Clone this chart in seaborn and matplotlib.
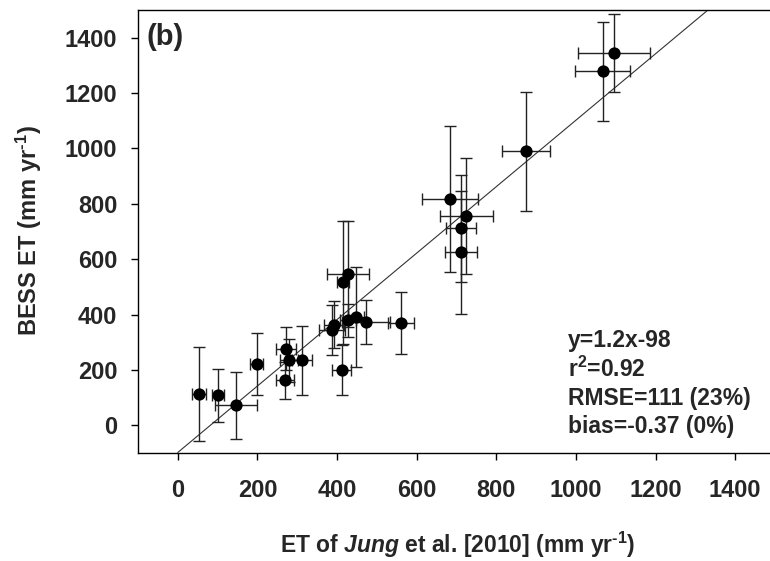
import numpy as np
import matplotlib
matplotlib.use("Agg")
import matplotlib.pyplot as plt
import seaborn as sns
import pandas as pd

# Data
jung_et = [54, 101, 146, 198, 272, 279, 269, 312, 387, 393, 427, 448, 473, 560,
           412, 414, 427, 684, 725, 712, 712, 874, 1067, 1095]
bess_et = [112, 108, 72, 220, 276, 235, 162, 235, 345, 363, 379, 391, 372, 370,
           199, 516, 546, 817, 755, 711, 625, 990, 1278, 1345]
jung_err = [18, 14, 52, 17, 25, 23, 22, 26, 32, 25, 20, 20, 60, 33,
            24, 15, 52, 70, 67, 38, 40, 60, 70, 90]
bess_err = [170, 97, 120, 112, 78, 78, 68, 124, 90, 85, 60, 180, 80, 112,
            90, 222, 192, 263, 210, 192, 223, 215, 178, 140]

fit_slope = 1.2
fit_intercept = -98
stats_lines = ["y=1.2x-98", r"r$^{2}$=0.92", "RMSE=111 (23%)", "bias=-0.37 (0%)"]
ticks = [0, 200, 400, 600, 800, 1000, 1200, 1400]
axis_min, axis_max = -100, 1500

df = pd.DataFrame({"jung": jung_et, "bess": bess_et,
                   "jung_err": jung_err, "bess_err": bess_err})

sns.set_style("ticks")
plt.rcParams["font.family"] = ["Liberation Sans", "DejaVu Sans"]
plt.rcParams["font.weight"] = "bold"
plt.rcParams["mathtext.fontset"] = "custom"
plt.rcParams["mathtext.rm"] = "Liberation Sans:bold"
plt.rcParams["mathtext.it"] = "Liberation Sans:bold:italic"
plt.rcParams["mathtext.bf"] = "Liberation Sans:bold"

fig = plt.figure(figsize=(7.7, 5.61), dpi=100)
W, H = 770, 561
ax = fig.add_axes([138 / W, (H - 453) / H, (775 - 138) / W, (453 - 10) / H])

# error bars
ax.errorbar(df["jung"], df["bess"], xerr=df["jung_err"], yerr=df["bess_err"],
            fmt="none", ecolor="#222222", elinewidth=1.0, capsize=4.5,
            capthick=1.0, zorder=2)
sns.scatterplot(data=df, x="jung", y="bess", ax=ax, color="black", s=78,
                edgecolor="black", linewidth=0, zorder=3)

# regression line
x_end = (axis_max - fit_intercept) / fit_slope
line_x = np.array([0, x_end])
sns.lineplot(x=line_x, y=fit_slope * line_x + fit_intercept, ax=ax,
             color="#333333", linewidth=0.8, zorder=1)

ax.set_xlim(axis_min, axis_max)
ax.set_ylim(axis_min, axis_max)
ax.set_xticks(ticks)
ax.set_yticks(ticks)
ax.tick_params(axis="both", direction="out", length=5, width=1,
               labelsize=17, color="black")
ax.tick_params(axis="x", pad=14)
ax.tick_params(axis="y", pad=10)
for lab in ax.get_xticklabels() + ax.get_yticklabels():
    lab.set_fontweight("bold")

for side in ["left", "bottom", "top", "right"]:
    ax.spines[side].set_visible(True)
    ax.spines[side].set_color("black")
    ax.spines[side].set_linewidth(1.0)

ax.set_xlabel("ET of $\\mathit{Jung}$ et al. [2010] (mm yr$^{\u2010 1}$)",
              fontsize=16.5, fontweight="bold", va="center")
ax.set_ylabel("BESS ET (mm yr$^{\u2010 1}$)", fontsize=17,
              fontweight="bold", va="center")
ax.xaxis.set_label_coords(0.502, -0.207)
ax.yaxis.set_label_coords(-0.172, 0.503)

ax.text(0.014, 0.939, "(b)", transform=ax.transAxes, fontsize=21,
        fontweight="bold", ha="left", va="center")

y0 = (453 - 340) / 443
dy = 29 / 443
for i, line in enumerate(stats_lines):
    ax.text(0.675, y0 - i * dy, line, transform=ax.transAxes, fontsize=16.5,
            fontweight="bold", ha="left", va="center")

fig.savefig("out.png", dpi=100)
